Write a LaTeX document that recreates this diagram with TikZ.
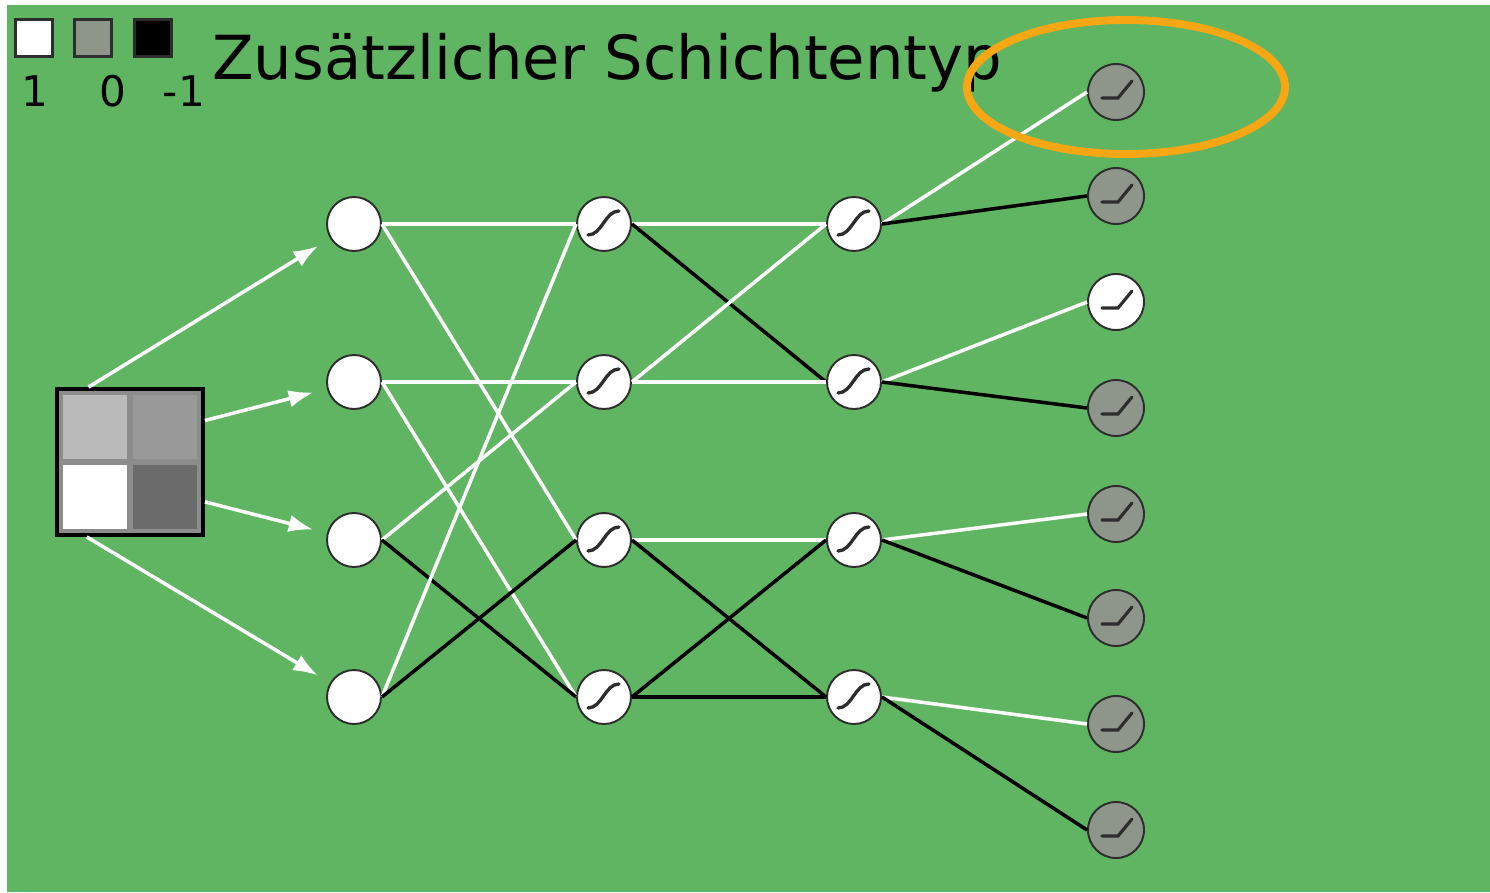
\documentclass[tikz,border=0pt]{standalone}
\usepackage{fontspec}
\setmainfont{DejaVu Sans}
\usetikzlibrary{calc,arrows.meta}

\definecolor{fieldgreen}{RGB}{95,181,97}
\definecolor{unitgray}{RGB}{142,150,140}
\definecolor{rimgray}{RGB}{45,45,45}
\definecolor{ringorange}{RGB}{247,166,20}

\begin{document}
\begin{tikzpicture}[
  x=0.02cm, y=-0.02cm,
  unit/.style={circle, draw=rimgray, line width=1.1pt, fill=white,
    minimum size=1.08cm, inner sep=0pt},
  sig/.style={unit, path picture={
    \draw[line width=1.9pt, line cap=round]
      ($(path picture bounding box.center)+(-16,11)$)
      .. controls ($(path picture bounding box.center)+(-2,11)$)
      and ($(path picture bounding box.center)+(1,-13)$)
      .. ($(path picture bounding box.center)+(15,-13)$);}},
  relu/.style={unit, fill=unitgray, minimum size=1.12cm, path picture={
    \draw[line width=1.8pt, line cap=round]
      ($(path picture bounding box.center)+(-14,6)$)
      -- ($(path picture bounding box.center)+(2,6)$)
      -- ($(path picture bounding box.center)+(16,-11)$);}},
  excite/.style={draw=white, line width=2pt},
  inhibit/.style={draw=black, line width=2pt},
  feed/.style={draw=white, line width=2pt, shorten >=8pt,
    -{Latex[length=14pt,width=10pt]}},
  swatch/.style={draw=rimgray, line width=1.9pt, minimum size=0.74cm, inner sep=0pt},
  legend/.style={font=\fontsize{24pt}{26pt}\selectfont, inner sep=0pt}
]
\useasboundingbox (0,0) rectangle (1490,892);
\fill[fieldgreen] (7,5) rectangle (1490,892);

% legend of the weight colours
\node[swatch, fill=white] (w1) at (34,38) {};
\node[swatch, fill=unitgray] (w0) at (93,38) {};
\node[swatch, fill=black] (wm) at (153,38) {};
\node[legend] (l1) at (35,91) {1};
\node[legend] (l0) at (113,91) {0};
\node[legend] (lm) at (184,91) {-1};
\node[anchor=base west, inner sep=0pt, font=\fontsize{34.6pt}{40pt}\selectfont]
  (title) at (212,80) {Zusätzlicher Schichtentyp};

% input image, 2x2 pixels
\node[draw=black, line width=2.2pt, fill=black!45, minimum size=2.92cm,
  inner sep=0pt] (inp) at (130,462) {};
\fill[black!27] (63,395) rectangle (127,459);
\fill[black!40] (133,395) rectangle (197,459);
\fill[white] (63,465) rectangle (127,529);
\fill[black!58] (133,465) rectangle (197,529);

% layers
\foreach \i/\y in {1/224,2/382,3/540,4/697} {
  \node[unit] (in\i) at (354,\y) {};
  \node[sig] (hA\i) at (604,\y) {};
  \node[sig] (hB\i) at (854,\y) {};
}
\foreach \i/\y in {1/92,2/196,4/408,5/514,6/618,7/724,8/830}
  \node[relu] (out\i) at (1116,\y) {};
\node[relu, fill=white] (out3) at (1116,302) {};

% input arrows
\draw[feed] (inp.119) -- (in1);
\draw[feed] (inp.29) -- (in2);
\draw[feed] (inp.-28) -- (in3);
\draw[feed] (inp.240) -- (in4);

% weights
\foreach \a/\b/\s in {1/1/excite,1/3/excite,2/2/excite,2/4/excite,
    3/2/excite,3/4/inhibit,4/1/excite,4/3/inhibit}
  \draw[\s] (in\a.east) -- (hA\b.west);
\foreach \a/\b/\s in {1/1/excite,1/2/inhibit,2/1/excite,2/2/excite,
    3/3/excite,3/4/inhibit,4/3/inhibit,4/4/inhibit}
  \draw[\s] (hA\a.east) -- (hB\b.west);
\foreach \a/\b/\c in {1/1/2,2/3/4,3/5/6,4/7/8} {
  \draw[excite] (hB\a.east) -- (out\b.west);
  \draw[inhibit] (hB\a.east) -- (out\c.west);
}

% highlight of the new layer type
\draw[ringorange, line width=4.5pt] (1126,87) ellipse [x radius=159, y radius=67];
\end{tikzpicture}
\end{document}
